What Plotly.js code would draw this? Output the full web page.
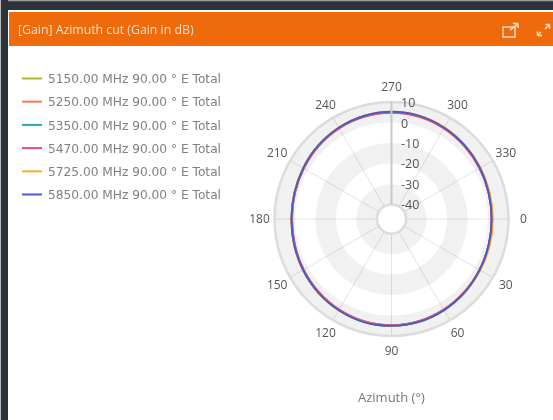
<!DOCTYPE html>
<html><head><meta charset="utf-8">
<script src="https://cdn.plot.ly/plotly-3.0.1.min.js"></script>
<style>html,body{margin:0;padding:0;background:#fff;overflow:hidden}#c{width:553px;height:420px;filter:blur(0.7px)}</style>
</head><body><div id="c"></div>
<script>
const W=553,H=420,CX=391.5,CY=219,R=117;
const angles=[0,15,30,45,60,75,90,105,120,135,150,165,180,195,210,225,240,255,270,285,300,315,330,345,360];
const names=["5150.00 MHz 90.00 ° E Total","5250.00 MHz 90.00 ° E Total","5350.00 MHz 90.00 ° E Total","5470.00 MHz 90.00 ° E Total","5725.00 MHz 90.00 ° E Total","5850.00 MHz 90.00 ° E Total"];
const colors=["#9ebf2f","#ff7849","#2ba6b3","#ec4b80","#ffa92e","#4c5ac4"];
const gain5150=[1.9,2.1,2.7,3.4,4.1,4.7,4.9,4.8,4.2,3.4,2.6,1.9,1.6,1.8,2.5,3.4,4.2,4.8,5.0,4.9,4.2,3.4,2.7,2.1,1.9];
const gain5250=[2.0,2.2,2.6,3.3,4.0,4.6,4.8,4.7,4.1,3.3,2.5,1.8,1.5,1.9,2.4,3.3,4.1,4.7,4.9,4.8,4.1,3.3,2.6,2.2,2.0];
const gain5350=[1.8,2.0,2.6,3.5,4.2,4.7,5.0,4.8,4.2,3.5,2.7,2.0,1.7,1.9,2.6,3.5,4.3,4.9,5.1,4.9,4.3,3.5,2.6,2.0,1.8];
const gain5470=[1.7,2.0,2.5,3.2,3.9,4.5,4.7,4.5,3.9,3.2,2.4,1.7,1.4,1.7,2.3,3.2,4.0,4.5,4.7,4.6,4.0,3.2,2.5,2.0,1.7];
const gain5725=[2.3,2.5,2.9,3.5,4.2,4.8,5.0,4.8,4.3,3.6,2.8,2.1,1.7,2.0,2.7,3.6,4.4,5.0,5.2,5.1,4.5,3.7,3.0,2.5,2.3];
const gain5850=[1.8,2.0,2.6,3.4,4.2,4.8,5.0,4.9,4.3,3.5,2.7,2.0,1.7,1.9,2.6,3.5,4.3,4.9,5.2,5.0,4.3,3.5,2.7,2.0,1.8];
const allGain=[gain5150,gain5250,gain5350,gain5470,gain5725,gain5850];
const radialTicks=[-40,-30,-20,-10,0,10];
const angularTicks=[0,30,60,90,120,150,180,210,240,270,300,330];
const bandLow=[0,-20,-40], bandHigh=[10,-10,-30];

const px=x=>x/W, py=y=>1-y/H;
const rect=(x0,y0,x1,y1,fill,line,lw)=>({type:'rect',xref:'paper',yref:'paper',x0:px(x0),x1:px(x1),y0:py(y0),y1:py(y1),fillcolor:fill||'rgba(0,0,0,0)',line:{color:line||'rgba(0,0,0,0)',width:lw||0},layer:'below'});
const seg=(x0,y0,x1,y1)=>({type:'line',xref:'paper',yref:'paper',x0:px(x0),x1:px(x1),y0:py(y0),y1:py(y1),line:{color:'#fbdcc4',width:1.6},layer:'below'});

const traces=[];
bandLow.forEach((b,i)=>traces.push({type:'barpolar',r:[bandHigh[i]-b],base:[b],theta:[180],width:[360],marker:{color:'rgba(0,0,0,0.055)',line:{width:0}},showlegend:false,hoverinfo:'skip'}));
names.forEach((n,i)=>traces.push({type:'scatterpolar',mode:'lines',name:n,legendgroup:'g'+i,r:allGain[i],theta:angles,line:{color:colors[i],width:2,shape:'spline'},hoverinfo:'skip'}));

const layout={width:W,height:H,margin:{l:0,r:0,t:0,b:0},paper_bgcolor:'#fff',showlegend:true,
 font:{family:'"Open Sans",sans-serif',size:12,color:'#555'},
 legend:{x:px(17),y:py(64),xanchor:'left',yanchor:'top',traceorder:'grouped',tracegroupgap:4.2,itemwidth:30,bgcolor:'rgba(0,0,0,0)',font:{family:'"DejaVu Sans",sans-serif',size:12.2,color:'#808080'}},
 polar:{domain:{x:[px(CX-R),px(CX+R)],y:[py(CY+R),py(CY-R)]},hole:0.125,bgcolor:'rgba(0,0,0,0)',
  angularaxis:{direction:'clockwise',rotation:0,tickmode:'array',tickvals:angularTicks,ticktext:angularTicks.map(String),ticks:'',showline:true,linecolor:'#dcdcdc',linewidth:2.5,gridcolor:'#e4e4e4',gridwidth:1,tickfont:{size:12,color:'#555'}},
  radialaxis:{angle:90,side:'clockwise',tickangle:90,range:[-40,10],tickmode:'array',tickvals:radialTicks,ticktext:radialTicks.map(String),ticks:'',showgrid:false,showline:true,linecolor:'#c8c8c8',linewidth:2,tickfont:{size:12.5,color:'#555'},layer:'above traces'}},
 annotations:[
  {xref:'paper',yref:'paper',x:px(16),y:py(29.5),xanchor:'left',yanchor:'middle',showarrow:false,text:'[Gain] Azimuth cut (Gain in dB)',font:{size:12.3,color:'#fbdfc9'}},
  {xref:'paper',yref:'paper',x:px(CX),y:py(397),xanchor:'center',yanchor:'middle',showarrow:false,text:'Azimuth (°)',font:{size:13,color:'#777'}}
 ],
 shapes:[
  rect(0,0,W,10,'#2d3338'),rect(0,0,W,1.2,'#9a9da0'),rect(1,0,8,H,'#2d3338'),rect(0,0,1,H,'#b5b7b9'),
  rect(9,12,W,46,'#ee6a0a'),
  rect(503,27,515,37,null,'#fbdcc4',1.5),
  seg(510,30,518,24),seg(513,23.5,518,23.5),seg(518,23.5,518,28),
  seg(538,35,541,32),seg(537.5,31.5,537.5,35.5),seg(537.5,35.5,542,35.5),
  seg(545,29,549,25),seg(545.5,24.5,549.5,24.5),seg(549.5,24.5,549.5,28.5)
 ]};
Plotly.newPlot('c',traces,layout,{displayModeBar:false,staticPlot:true}).then(()=>{
  // legend key length and centred angular labels, as in the reference widget
  document.querySelectorAll('.legendlines path').forEach(p=>p.setAttribute('d','M5,0h20'));
  document.querySelectorAll('.legendtext').forEach(t=>t.setAttribute('x',31));
  document.querySelectorAll('.angular-axis text, .angularaxis text').forEach(t=>{
    const a=parseFloat(t.textContent)*Math.PI/180, x=CX+132*Math.cos(a), y=CY+132*Math.sin(a)+4;
    t.setAttribute('text-anchor','middle');t.setAttribute('x',0);t.setAttribute('y',0);
    t.setAttribute('transform','translate('+x+','+y+')');
  });
  document.querySelectorAll('.radial-axis text, .radialaxis text').forEach(t=>{
    t.setAttribute('transform','translate(-1,6) '+(t.getAttribute('transform')||''));
  });
});
</script></body></html>
